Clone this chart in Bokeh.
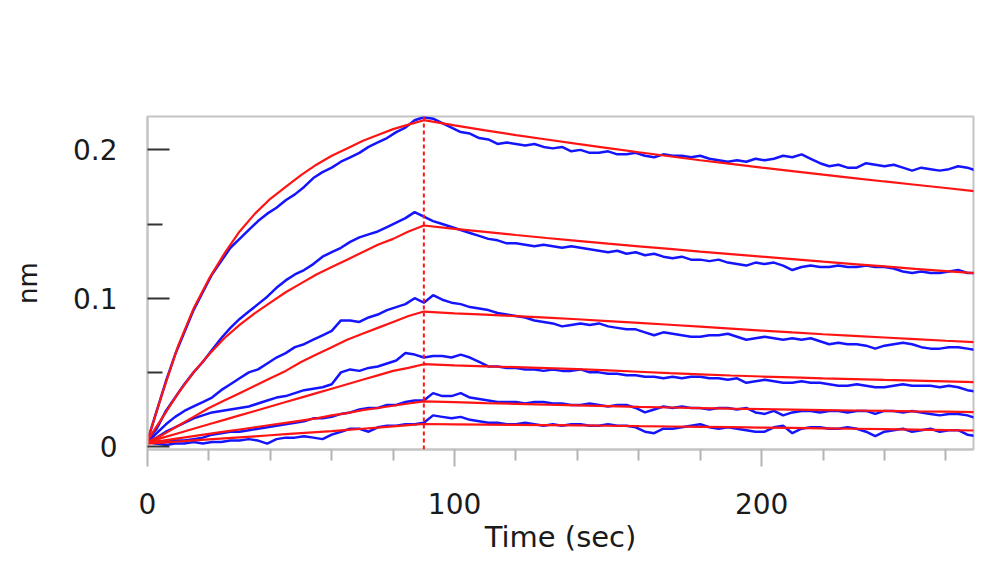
from bokeh.plotting import figure
from bokeh.models import Range1d, FixedTicker, Span
from bokeh.embed import file_html
from bokeh.resources import INLINE

# ---------------- data ----------------
TIME_BLUE = list(range(0, 271, 3))  # measured sensorgram sampling (s)

BLUE_1 = [0.004, 0.024, 0.044, 0.062, 0.077, 0.092, 0.104, 0.116, 0.125, 0.134,
          0.140, 0.146, 0.152, 0.157, 0.161, 0.166, 0.170, 0.175, 0.181, 0.185,
          0.188, 0.192, 0.195, 0.198, 0.202, 0.205, 0.208, 0.212, 0.215, 0.220,
          0.222,
          0.221, 0.218, 0.215, 0.212, 0.211, 0.208, 0.207, 0.204, 0.205, 0.204,
          0.203, 0.204, 0.202, 0.201, 0.202, 0.199, 0.200, 0.198, 0.198, 0.199,
          0.197, 0.197, 0.198, 0.196, 0.195, 0.197, 0.196, 0.196, 0.195, 0.196,
          0.194, 0.193, 0.192, 0.193, 0.192, 0.194, 0.193, 0.194, 0.196, 0.195,
          0.197, 0.194, 0.191, 0.189, 0.190, 0.188, 0.188, 0.191, 0.190, 0.189,
          0.190, 0.188, 0.186, 0.188, 0.187, 0.186, 0.187, 0.189, 0.188, 0.186]

BLUE_2 = [0.004, 0.012, 0.024, 0.033, 0.042, 0.050, 0.057, 0.065, 0.073, 0.080,
          0.086, 0.091, 0.096, 0.101, 0.107, 0.112, 0.116, 0.119, 0.123, 0.128,
          0.131, 0.134, 0.138, 0.141, 0.143, 0.145, 0.148, 0.151, 0.154, 0.158,
          0.155,
          0.152, 0.150, 0.148, 0.146, 0.144, 0.142, 0.140, 0.139, 0.137, 0.137,
          0.136, 0.135, 0.136, 0.135, 0.134, 0.135, 0.134, 0.133, 0.132, 0.131,
          0.132, 0.130, 0.131, 0.129, 0.130, 0.128, 0.127, 0.128, 0.126, 0.126,
          0.125, 0.126, 0.124, 0.123, 0.122, 0.124, 0.123, 0.124, 0.122, 0.119,
          0.121, 0.122, 0.121, 0.121, 0.122, 0.121, 0.121, 0.122, 0.121, 0.121,
          0.120, 0.118, 0.117, 0.118, 0.117, 0.117, 0.118, 0.119, 0.117, 0.117]

BLUE_3 = [0.003, 0.009, 0.015, 0.020, 0.024, 0.027, 0.030, 0.033, 0.038, 0.042,
          0.046, 0.050, 0.052, 0.056, 0.060, 0.063, 0.067, 0.069, 0.072, 0.075,
          0.078, 0.085, 0.085, 0.084, 0.087, 0.089, 0.092, 0.094, 0.096, 0.100,
          0.097,
          0.102, 0.099, 0.097, 0.096, 0.094, 0.093, 0.092, 0.090, 0.089, 0.088,
          0.087, 0.085, 0.084, 0.083, 0.081, 0.082, 0.083, 0.082, 0.083, 0.081,
          0.080, 0.079, 0.079, 0.077, 0.075, 0.077, 0.076, 0.075, 0.074, 0.074,
          0.075, 0.075, 0.076, 0.074, 0.072, 0.073, 0.074, 0.073, 0.072, 0.073,
          0.072, 0.073, 0.071, 0.069, 0.070, 0.069, 0.069, 0.068, 0.066, 0.068,
          0.069, 0.070, 0.069, 0.067, 0.066, 0.066, 0.067, 0.067, 0.066, 0.065]

BLUE_4 = [0.003, 0.006, 0.010, 0.013, 0.016, 0.019, 0.021, 0.023, 0.024, 0.025,
          0.026, 0.027, 0.029, 0.031, 0.033, 0.034, 0.036, 0.038, 0.039, 0.040,
          0.042, 0.050, 0.052, 0.051, 0.053, 0.054, 0.056, 0.058, 0.063, 0.062,
          0.060,
          0.061, 0.061, 0.060, 0.062, 0.060, 0.057, 0.054, 0.054, 0.053, 0.053,
          0.052, 0.052, 0.051, 0.052, 0.051, 0.051, 0.052, 0.050, 0.050, 0.049,
          0.049, 0.048, 0.048, 0.047, 0.047, 0.046, 0.047, 0.046, 0.047, 0.047,
          0.046, 0.046, 0.045, 0.046, 0.043, 0.044, 0.045, 0.044, 0.043, 0.043,
          0.044, 0.043, 0.043, 0.042, 0.041, 0.041, 0.042, 0.041, 0.040, 0.040,
          0.041, 0.042, 0.041, 0.041, 0.041, 0.040, 0.041, 0.040, 0.038, 0.037]

BLUE_5 = [0.003, 0.002, 0.003, 0.004, 0.004, 0.005, 0.006, 0.008, 0.009, 0.010,
          0.010, 0.011, 0.012, 0.013, 0.014, 0.015, 0.016, 0.017, 0.019, 0.019,
          0.020, 0.022, 0.023, 0.025, 0.026, 0.026, 0.028, 0.028, 0.030, 0.031,
          0.031,
          0.036, 0.034, 0.034, 0.036, 0.033, 0.032, 0.031, 0.030, 0.030, 0.030,
          0.029, 0.030, 0.030, 0.029, 0.029, 0.028, 0.028, 0.029, 0.028, 0.027,
          0.028, 0.028, 0.026, 0.023, 0.025, 0.027, 0.026, 0.027, 0.026, 0.026,
          0.025, 0.026, 0.026, 0.025, 0.026, 0.023, 0.022, 0.024, 0.021, 0.023,
          0.024, 0.024, 0.023, 0.024, 0.024, 0.023, 0.024, 0.024, 0.022, 0.024,
          0.024, 0.023, 0.024, 0.023, 0.022, 0.021, 0.022, 0.022, 0.021, 0.019]

BLUE_6 = [0.003, 0.002, 0.001, 0.002, 0.002, 0.003, 0.002, 0.003, 0.003, 0.004,
          0.004, 0.005, 0.004, 0.002, 0.005, 0.006, 0.006, 0.007, 0.006, 0.005,
          0.008, 0.010, 0.012, 0.012, 0.010, 0.013, 0.014, 0.014, 0.015, 0.015,
          0.016,
          0.021, 0.020, 0.019, 0.020, 0.018, 0.017, 0.016, 0.016, 0.015, 0.015,
          0.016, 0.015, 0.014, 0.015, 0.014, 0.015, 0.015, 0.014, 0.014, 0.015,
          0.014, 0.014, 0.013, 0.010, 0.009, 0.012, 0.012, 0.013, 0.014, 0.015,
          0.013, 0.012, 0.013, 0.012, 0.011, 0.010, 0.010, 0.013, 0.014, 0.009,
          0.012, 0.013, 0.013, 0.012, 0.012, 0.013, 0.012, 0.010, 0.007, 0.010,
          0.011, 0.012, 0.010, 0.011, 0.012, 0.010, 0.011, 0.011, 0.008, 0.007]

TIME_FIT = [0, 5, 10, 15, 20, 25, 30, 35, 40, 45, 50, 55, 60, 65, 70, 75, 80, 85, 90,
            100, 110, 120, 130, 140, 150, 160, 170, 180, 190, 200, 210, 220, 230,
            240, 250, 260, 270]

FIT_1 = [0.004, 0.037, 0.068, 0.093, 0.113, 0.130, 0.145, 0.157, 0.167, 0.175,
         0.183, 0.190, 0.196, 0.201, 0.206, 0.210, 0.214, 0.217, 0.220,
         0.2165, 0.2132, 0.2100, 0.2070, 0.2040, 0.2012, 0.1984, 0.1957, 0.1930,
         0.1905, 0.1880, 0.1857, 0.1833, 0.1810, 0.1787, 0.1765, 0.1743, 0.1720]
FIT_2 = [0.004, 0.020, 0.036, 0.050, 0.062, 0.073, 0.082, 0.090, 0.097, 0.104,
         0.110, 0.116, 0.121, 0.126, 0.131, 0.136, 0.140, 0.145, 0.149,
         0.1468, 0.1447, 0.1426, 0.1406, 0.1387, 0.1368, 0.1350, 0.1332, 0.1314,
         0.1297, 0.1280, 0.1263, 0.1246, 0.1230, 0.1214, 0.1198, 0.1183, 0.1168]
FIT_3 = [0.003, 0.008, 0.014, 0.020, 0.026, 0.031, 0.036, 0.041, 0.046, 0.051,
         0.057, 0.062, 0.067, 0.072, 0.076, 0.080, 0.084, 0.088, 0.091,
         0.0898, 0.0889, 0.0879, 0.0869, 0.0858, 0.0846, 0.0834, 0.0821, 0.0808,
         0.0795, 0.0782, 0.0769, 0.0757, 0.0746, 0.0735, 0.0724, 0.0713, 0.0703]
FIT_4 = [0.003, 0.006, 0.009, 0.012, 0.015, 0.018, 0.021, 0.024, 0.027, 0.030,
         0.033, 0.036, 0.039, 0.042, 0.045, 0.048, 0.051, 0.053, 0.0555,
         0.0547, 0.0541, 0.0535, 0.0529, 0.0522, 0.0513, 0.0504, 0.0495, 0.0487,
         0.0479, 0.0472, 0.0466, 0.0460, 0.0455, 0.0449, 0.0444, 0.0439, 0.0434]
FIT_5 = [0.003, 0.004, 0.0055, 0.007, 0.0085, 0.010, 0.0115, 0.013, 0.0145, 0.016,
         0.0175, 0.019, 0.021, 0.0225, 0.0245, 0.026, 0.0275, 0.029, 0.0304,
         0.0299, 0.0293, 0.0288, 0.0282, 0.0277, 0.0272, 0.0267, 0.0263, 0.0259,
         0.0255, 0.0252, 0.0249, 0.0246, 0.0243, 0.0240, 0.0237, 0.0235, 0.0232]
FIT_6 = [0.002, 0.0027, 0.0034, 0.0041, 0.0048, 0.0055, 0.0062, 0.0069, 0.0076, 0.0083,
         0.0090, 0.0097, 0.0104, 0.0112, 0.0120, 0.0128, 0.0136, 0.0144, 0.0152,
         0.0150, 0.0148, 0.0146, 0.0144, 0.0142, 0.0140, 0.0137, 0.0135, 0.0133,
         0.0131, 0.0128, 0.0126, 0.0123, 0.0120, 0.0117, 0.0114, 0.0111, 0.0108]

BLUE_SERIES = [BLUE_1, BLUE_2, BLUE_3, BLUE_4, BLUE_5, BLUE_6]
FIT_SERIES = [FIT_1, FIT_2, FIT_3, FIT_4, FIT_5, FIT_6]

DISSOCIATION_START = 90
X_MAJOR = [0, 100, 200]
X_MINOR = [20, 40, 60, 80, 120, 140, 160, 180, 220, 240, 260]
Y_MAJOR = [0, 0.1, 0.2]
Y_MINOR = [0.05, 0.15]
Y_LABELS = {0: "0", 0.1: "0.1", 0.2: "0.2"}

# ---------------- figure ----------------
FONT = "DejaVu Sans"
TEXT_COLOR = "#1a1a1a"

p = figure(frame_width=826, frame_height=333,
           min_border_left=147, min_border_right=12,
           min_border_top=116, min_border_bottom=100,
           x_range=Range1d(0, 269), y_range=Range1d(-0.002, 0.2225),
           output_backend="svg", toolbar_location=None)

p.xgrid.visible = False
p.ygrid.visible = False
p.background_fill_color = "white"
p.border_fill_color = "white"
p.outline_line_color = "#c4c4c4"
p.outline_line_width = 2

BLUE = "#1414ff"
RED = "#ff1414"

for ys in BLUE_SERIES:
    p.line(TIME_BLUE, ys, line_color=BLUE, line_width=2.5)
for ys in FIT_SERIES:
    p.line(TIME_FIT, ys, line_color=RED, line_width=2.2)

p.add_layout(Span(location=DISSOCIATION_START, dimension="height",
                  line_color=RED, line_width=2, line_dash="4 3"))

# x axis
xa = p.xaxis[0]
xa.ticker = FixedTicker(ticks=X_MAJOR, minor_ticks=X_MINOR)
xa.axis_line_color = "#c4c4c4"
xa.axis_line_width = 2
xa.major_tick_in = 0
xa.major_tick_out = 17
xa.minor_tick_in = 0
xa.minor_tick_out = 11
xa.major_tick_line_color = "#b4b4b4"
xa.minor_tick_line_color = "#b4b4b4"
xa.major_tick_line_width = 2
xa.minor_tick_line_width = 2
xa.major_label_standoff = 26
xa.major_label_text_font = FONT
xa.major_label_text_font_size = "28px"
xa.major_label_text_color = TEXT_COLOR
xa.axis_label = "Time (sec)"
xa.axis_label_standoff = 3
xa.axis_label_text_font = FONT
xa.axis_label_text_font_size = "29px"
xa.axis_label_text_font_style = "normal"
xa.axis_label_text_color = TEXT_COLOR

# y axis
ya = p.yaxis[0]
ya.ticker = FixedTicker(ticks=Y_MAJOR, minor_ticks=Y_MINOR)
ya.major_label_overrides = Y_LABELS
ya.axis_line_color = "#c4c4c4"
ya.axis_line_width = 2
ya.major_tick_in = 22
ya.major_tick_out = 0
ya.minor_tick_in = 15
ya.minor_tick_out = 0
ya.major_tick_line_color = "#333333"
ya.minor_tick_line_color = "#333333"
ya.major_tick_line_width = 2
ya.minor_tick_line_width = 2
ya.major_label_standoff = 30
ya.major_label_text_font = FONT
ya.major_label_text_font_size = "28px"
ya.major_label_text_color = TEXT_COLOR
ya.axis_label = "nm"
ya.axis_label_standoff = 27
ya.axis_label_text_font = FONT
ya.axis_label_text_font_size = "26px"
ya.axis_label_text_font_style = "normal"
ya.axis_label_text_color = TEXT_COLOR

open("out.html", "w").write(file_html(p, INLINE))
